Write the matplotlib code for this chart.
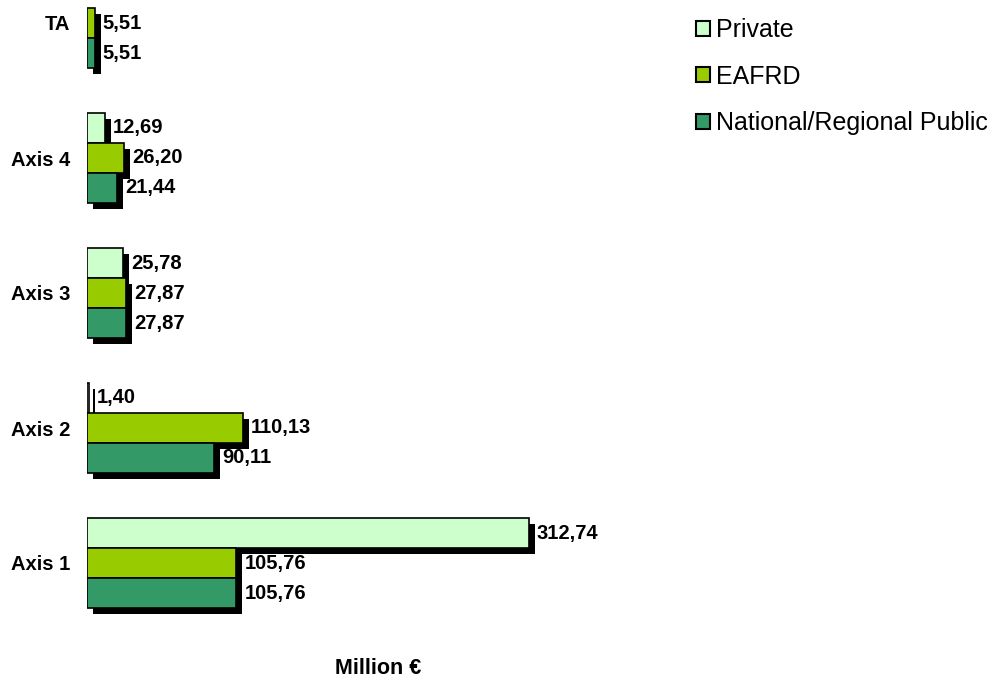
import numpy as np
import matplotlib
matplotlib.use("Agg")
import matplotlib.pyplot as plt
from matplotlib import transforms
from matplotlib.patches import Patch

categories = ["Axis 1", "Axis 2", "Axis 3", "Axis 4", "TA"]
private = [312.74, 1.40, 25.78, 12.69, np.nan]
eafrd = [105.76, 110.13, 27.87, 26.20, 5.51]
national = [105.76, 90.11, 27.87, 21.44, 5.51]
series_names = ["Private", "EAFRD", "National/Regional Public"]
colors = ["#CCFFCC", "#99CC00", "#339966"]

plt.rcParams['font.family'] = ['Liberation Sans', 'DejaVu Sans']

fig = plt.figure(figsize=(9.88, 6.78), dpi=100)
W, H = 988, 678
ax = fig.add_axes([87 / W, 1 - 640 / H, 582 / W, 640 / H])

y = np.arange(len(categories))
h = 30 / 135
offsets = [h, 0, -h]
data = [private, eafrd, national]

shadow = transforms.offset_copy(ax.transData, fig=fig, x=6, y=-6, units='dots')

for vals, off, col in zip(data, offsets, colors):
    vals = np.array(vals, dtype=float)
    ax.barh(y + off, vals, height=h, color='black', edgecolor='black',
            linewidth=0, transform=shadow, zorder=1)
for vals, off, col, name in zip(data, offsets, colors, series_names):
    vals = np.array(vals, dtype=float)
    ax.barh(y + off, vals, height=h, color=col, edgecolor='black',
            linewidth=1.2, zorder=2, label=name)
    for yi, v in zip(y + off, vals):
        if np.isnan(v):
            continue
        ax.annotate(f"{v:.2f}".replace('.', ','), xy=(v, yi), xytext=(8, 0),
                    textcoords='offset pixels', va='center', ha='left',
                    fontsize=14.5, fontweight='bold', zorder=3)

ax.set_xlim(0, 582 / 1.413)
ax.set_ylim((563 - 640) / 135, 563 / 135)
ax.set_yticks(y)
ax.set_yticklabels(categories, fontsize=14.5, fontweight='bold')
ax.tick_params(axis='y', length=0, pad=12)
ax.set_xticks([])
for s in ax.spines.values():
    s.set_visible(False)
ax.patch.set_alpha(0)

fig.text(378 / W, 1 - 668 / H, "Million €", ha='center', va='center',
         fontsize=15.5, fontweight='bold')

handles = [Patch(facecolor=c, edgecolor='black', linewidth=1.5) for c in colors]
fig.legend(handles, series_names, loc='upper left',
           bbox_to_anchor=(696 / W, 1 - 18 / H), frameon=False,
           fontsize=18, handlelength=0.55, handleheight=0.55,
           handletextpad=0.25, labelspacing=0.9, borderpad=0, borderaxespad=0)

fig.savefig("out.png", dpi=100)
